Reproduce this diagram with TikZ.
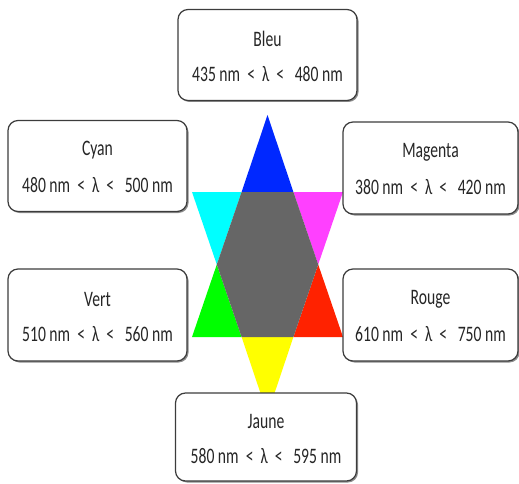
\documentclass[tikz,border=0pt]{standalone}
\usepackage{fontspec}
\setmainfont{Carlito}
\usetikzlibrary{shadows}
\definecolor{sblue}{RGB}{0,40,255}
\definecolor{scyan}{RGB}{0,255,255}
\definecolor{smag}{RGB}{255,64,255}
\definecolor{sgreen}{RGB}{0,255,0}
\definecolor{sred}{RGB}{255,34,0}
\definecolor{syellow}{RGB}{255,255,0}
\definecolor{sgray}{RGB}{102,102,102}
\definecolor{sborder}{RGB}{60,60,60}
\tikzset{
  cbox/.style={draw=sborder, line width=1.2pt, rounded corners=10pt, fill=white,
    drop shadow={shadow xshift=1.5pt, shadow yshift=-1.5pt, fill=black!45, opacity=1},
    inner sep=0pt},
  ctext/.style={inner sep=0pt, font=\fontsize{17}{17}\selectfont, text=black!85}
}
\newcommand{\mybox}[7]{%
  \node[cbox, minimum width=#4pt, minimum height=#5pt] (#1) at (#2,#3) {};
  \node[ctext] (#1t) at ([yshift=16pt]#1.center) {\scalebox{0.92}[1.3]{#6}};
  \node[ctext] (#1r) at ([yshift=-19pt]#1.center) {\scalebox{0.92}[1.3]{#7}};
}
\begin{document}
\begin{tikzpicture}[x=1pt,y=-1pt]
\useasboundingbox (0,0) rectangle (519,484);
% star points
\coordinate (A) at (267.5,115);
\coordinate (B) at (192,337);
\coordinate (C) at (343,337);
\coordinate (D) at (192,192);
\coordinate (E) at (343,192);
\coordinate (F) at (267.5,414);
\coordinate (P1) at (241.6,192);
\coordinate (P2) at (293.4,192);
\coordinate (P3) at (318.2,264.5);
\coordinate (P4) at (293.4,337);
\coordinate (P5) at (241.6,337);
\coordinate (P6) at (216.8,264.5);
\fill[sblue] (A) -- (P1) -- (P2) -- cycle;
\fill[scyan] (D) -- (P1) -- (P6) -- cycle;
\fill[smag] (E) -- (P2) -- (P3) -- cycle;
\fill[sgreen] (B) -- (P6) -- (P5) -- cycle;
\fill[sred] (C) -- (P3) -- (P4) -- cycle;
\fill[syellow] (F) -- (P5) -- (P4) -- cycle;
\fill[sgray] (P1) -- (P2) -- (P3) -- (P4) -- (P5) -- (P6) -- cycle;
% boxes
\mybox{bleu}{267.5}{55}{179}{91}{Bleu}{435 nm \ <\ \ λ \ < \ \ 480 nm}
\mybox{cyan}{97.5}{166}{179}{91}{Cyan}{480 nm \ <\ \ λ \ < \ \ 500 nm}
\mybox{magenta}{430.5}{168}{175}{92}{Magenta}{380 nm \ <\ \ λ \ < \ \ 420 nm}
\mybox{vert}{97.5}{315}{179}{92}{Vert}{510 nm \ <\ \ λ \ < \ \ 560 nm}
\mybox{rouge}{430.5}{315}{175}{92}{Rouge}{610 nm \ <\ \ λ \ < \ \ 750 nm}
\mybox{jaune}{266}{437}{181}{88}{Jaune}{580 nm \ <\ \ λ \ < \ \ 595 nm}
\end{tikzpicture}
\end{document}
